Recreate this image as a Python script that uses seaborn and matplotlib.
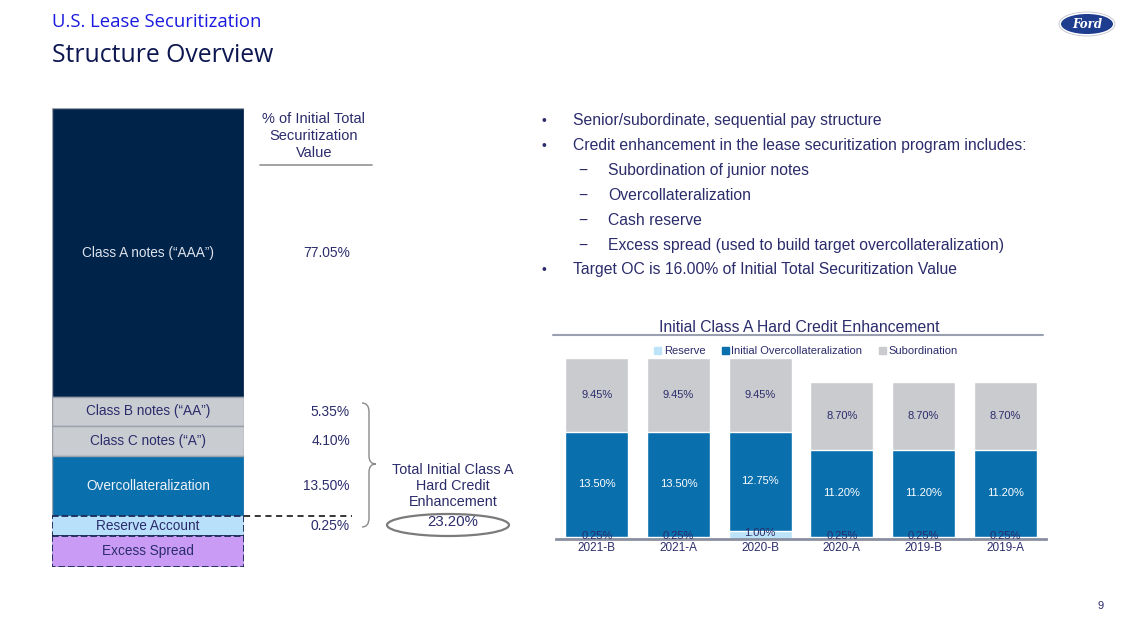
import numpy as np
import pandas as pd
import matplotlib
matplotlib.use("Agg")
import matplotlib.pyplot as plt
from matplotlib.patches import Ellipse, PathPatch
from matplotlib.path import Path
from matplotlib.lines import Line2D
import seaborn as sns

# bar chart data
series = ["2021-B", "2021-A", "2020-B", "2020-A", "2019-B", "2019-A"]
reserve = [0.25, 0.25, 1.00, 0.25, 0.25, 0.25]
overcollat = [13.50, 13.50, 12.75, 11.20, 11.20, 11.20]
subordination = [9.45, 9.45, 9.45, 8.70, 8.70, 8.70]

# structure block data
structure_labels = ["Class A notes (\u201cAAA\u201d)", "Class B notes (\u201cAA\u201d)",
                    "Class C notes (\u201cA\u201d)", "Overcollateralization",
                    "Reserve Account", "Excess Spread"]
structure_pct = ["77.05%", "5.35%", "4.10%", "13.50%", "0.25%", ""]
total_ce = "23.20%"

bullets = ["Senior/subordinate, sequential pay structure",
           "Credit enhancement in the lease securitization program includes:",
           "Subordination of junior notes",
           "Overcollateralization",
           "Cash reserve",
           "Excess spread (used to build target overcollateralization)",
           "Target OC is 16.00% of Initial Total Securitization Value"]
bullet_level = [0, 0, 1, 1, 1, 1, 0]

# schematic block heights (px, not to scale) and colours
block_h = [289, 29, 30, 60, 20, 31]
block_fc = ["#00234a", "#c9ccd1", "#c9ccd1", "#0a6fad", "#b9e0fb", "#c99bf5"]
block_tc = ["#dfe3ec", "#2b2c6b", "#2b2c6b", "#eef2f8", "#2b2c6b", "#2b2c6b"]

NAVY = "#2b2c6b"
C_RES, C_OC, C_SUB = "#bde3f8", "#0a6fad", "#c9cbcf"

sns.set_style("white")
plt.rcParams['font.family'] = ['Liberation Sans', 'DejaVu Sans']

W, H = 1129, 635
fig = plt.figure(figsize=(W / 100, H / 100), dpi=100)

# ---- stacked bar chart ----
ax = fig.add_axes([556 / W, (H - 539) / H, 490 / W, 195 / H])
df = pd.DataFrame({"series": series, "reserve": reserve,
                   "oc": overcollat, "sub": subordination})
df["res_oc"] = df["reserve"] + df["oc"]
df["total"] = df["res_oc"] + df["sub"]

sns.barplot(data=df, x="series", y="total", color=C_SUB, width=0.77, saturation=1, ax=ax)
sns.barplot(data=df, x="series", y="res_oc", color=C_OC, width=0.77, saturation=1, ax=ax)
sns.barplot(data=df, x="series", y="reserve", color=C_RES, width=0.77, saturation=1, ax=ax)

for i, row in df.iterrows():
    ax.text(i, row["res_oc"] + row["sub"] / 2, f"{row['sub']:.2f}%", ha="center",
            va="center", fontsize=8, color=NAVY)
    ax.text(i, row["reserve"] + row["oc"] / 2, f"{row['oc']:.2f}%", ha="center",
            va="center", fontsize=8, color="white")
    ax.text(i, row["reserve"] * 0.5 + 0.3, f"{row['reserve']:.2f}%", ha="center",
            va="center", fontsize=8, color=NAVY)

ax.set_ylim(0, 25)
ax.set_xlim(-0.5, 5.5)
ax.set_xlabel("")
ax.set_ylabel("")
ax.set_yticks([])
ax.tick_params(axis="x", length=0, labelsize=8.5, labelcolor=NAVY, pad=2.5)
sns.despine(ax=ax, left=True)
ax.spines["bottom"].set_color("#8a8fa0")
ax.spines["bottom"].set_linewidth(2)

handles = [plt.Rectangle((0, 0), 1, 1, color=c) for c in (C_RES, C_OC, C_SUB)]
ax.legend(handles, ["Reserve", "Initial Overcollateralization", "Subordination"],
          ncol=3, frameon=False, fontsize=8, labelcolor=NAVY, handlelength=0.6,
          handleheight=0.6, handletextpad=0.25, columnspacing=1.5,
          loc="center", bbox_to_anchor=(0.5 + 5 / 490, (539 - 351) / 195))

# ---- structure block ----
ax2 = fig.add_axes([52 / W, (H - 567) / H, 192 / W, 459 / H])
bottom = 0
for i, h in enumerate(block_h):
    dashed = i >= 4
    ax2.bar(0, h, bottom=bottom, width=1, color=block_fc[i],
            edgecolor="#1b2a55" if dashed else "#9ba1ab",
            linestyle="--" if dashed else "-", linewidth=1.3 if dashed else 1.0)
    ax2.text(0, bottom + h / 2, structure_labels[i], ha="center", va="center",
             fontsize=9.8, color=block_tc[i])
    bottom += h
ax2.set_xlim(-0.5, 0.5)
ax2.set_ylim(sum(block_h), 0)
ax2.axis("off")

# ---- overlay in pixel coordinates ----
ov = fig.add_axes([0, 0, 1, 1], facecolor="none")
ov.set_xlim(0, W)
ov.set_ylim(H, 0)
ov.axis("off")

ov.text(52, 22, "U.S. Lease Securitization", fontsize=13.3, color="#1a1ae0",
        va="center", family=["Open Sans", "DejaVu Sans"])
ov.text(52, 55, "Structure Overview", fontsize=17.8, color="#0c1650",
        va="center", family=["Open Sans", "DejaVu Sans"])

# Ford logo
ov.add_patch(Ellipse((1087, 24), 56, 24, facecolor="white", edgecolor="#c0c4cc", lw=0.6))
ov.add_patch(Ellipse((1087, 24), 52, 20, facecolor="#1f3d8f", edgecolor="none"))
ov.text(1087, 24.5, "Ford", fontsize=8.5, color="white", style="italic",
        fontweight="bold", family=["DejaVu Serif"], ha="center", va="center")

# percentage column
ov.text(314, 136, "% of Initial Total\nSecuritization\nValue", fontsize=10.5,
        color=NAVY, ha="center", va="center", linespacing=1.3)
ov.add_line(Line2D([260, 372], [165, 165], color="#9a9a9a", lw=1.3))
pct_y = []
y0 = 108
for h in block_h:
    pct_y.append(y0 + h / 2)
    y0 += h
pct_y[0] = 253
for y, p in zip(pct_y, structure_pct):
    if p:
        ov.text(350, y, p, fontsize=9.9, color=NAVY, ha="right", va="center")

# dashed line from reserve box
ov.add_line(Line2D([244, 352], [516, 516], color="black", lw=1.1, ls=(0, (4, 3))))

# curly brace
bx, tip = 362, 376
verts = [(bx, 403), (369, 403), (369, 412), (369, 456), (369, 464), (tip, 464),
         (369, 464), (369, 472), (369, 518), (369, 527), (bx, 527)]
codes = [Path.MOVETO, Path.CURVE3, Path.CURVE3, Path.LINETO, Path.CURVE3, Path.CURVE3,
         Path.CURVE3, Path.CURVE3, Path.LINETO, Path.CURVE3, Path.CURVE3]
ov.add_patch(PathPatch(Path(verts, codes), facecolor="none", edgecolor="#8a8a8a", lw=1.0))

ov.text(453, 486, "Total Initial Class A\nHard Credit\nEnhancement", fontsize=10.4,
        color=NAVY, ha="center", va="center", linespacing=1.2)
ov.text(453, 522, total_ce, fontsize=10.8, color=NAVY, ha="center", va="center")
ov.add_patch(Ellipse((448, 525), 122, 22, facecolor="none", edgecolor="#7b7b7b", lw=1.6))

# bullets
by = 121
for txt, lvl in zip(bullets, bullet_level):
    if lvl == 0:
        ov.text(541, by, "\u2022", fontsize=10, color=NAVY, va="center")
        ov.text(573, by, txt, fontsize=11.3, color=NAVY, va="center")
    else:
        ov.text(578, by, "\u2212", fontsize=11.3, color=NAVY, va="center")
        ov.text(608, by, txt, fontsize=11.3, color=NAVY, va="center")
    by += 24.8

# chart title
ov.text(799, 327, "Initial Class A Hard Credit Enhancement", fontsize=11.3,
        color=NAVY, ha="center", va="center")
ov.add_line(Line2D([553, 1043], [335, 335], color="#9aa0b0", lw=1.5))

ov.text(1104, 606, "9", fontsize=8, color=NAVY, ha="right", va="center")

fig.savefig("out.png", dpi=100)
